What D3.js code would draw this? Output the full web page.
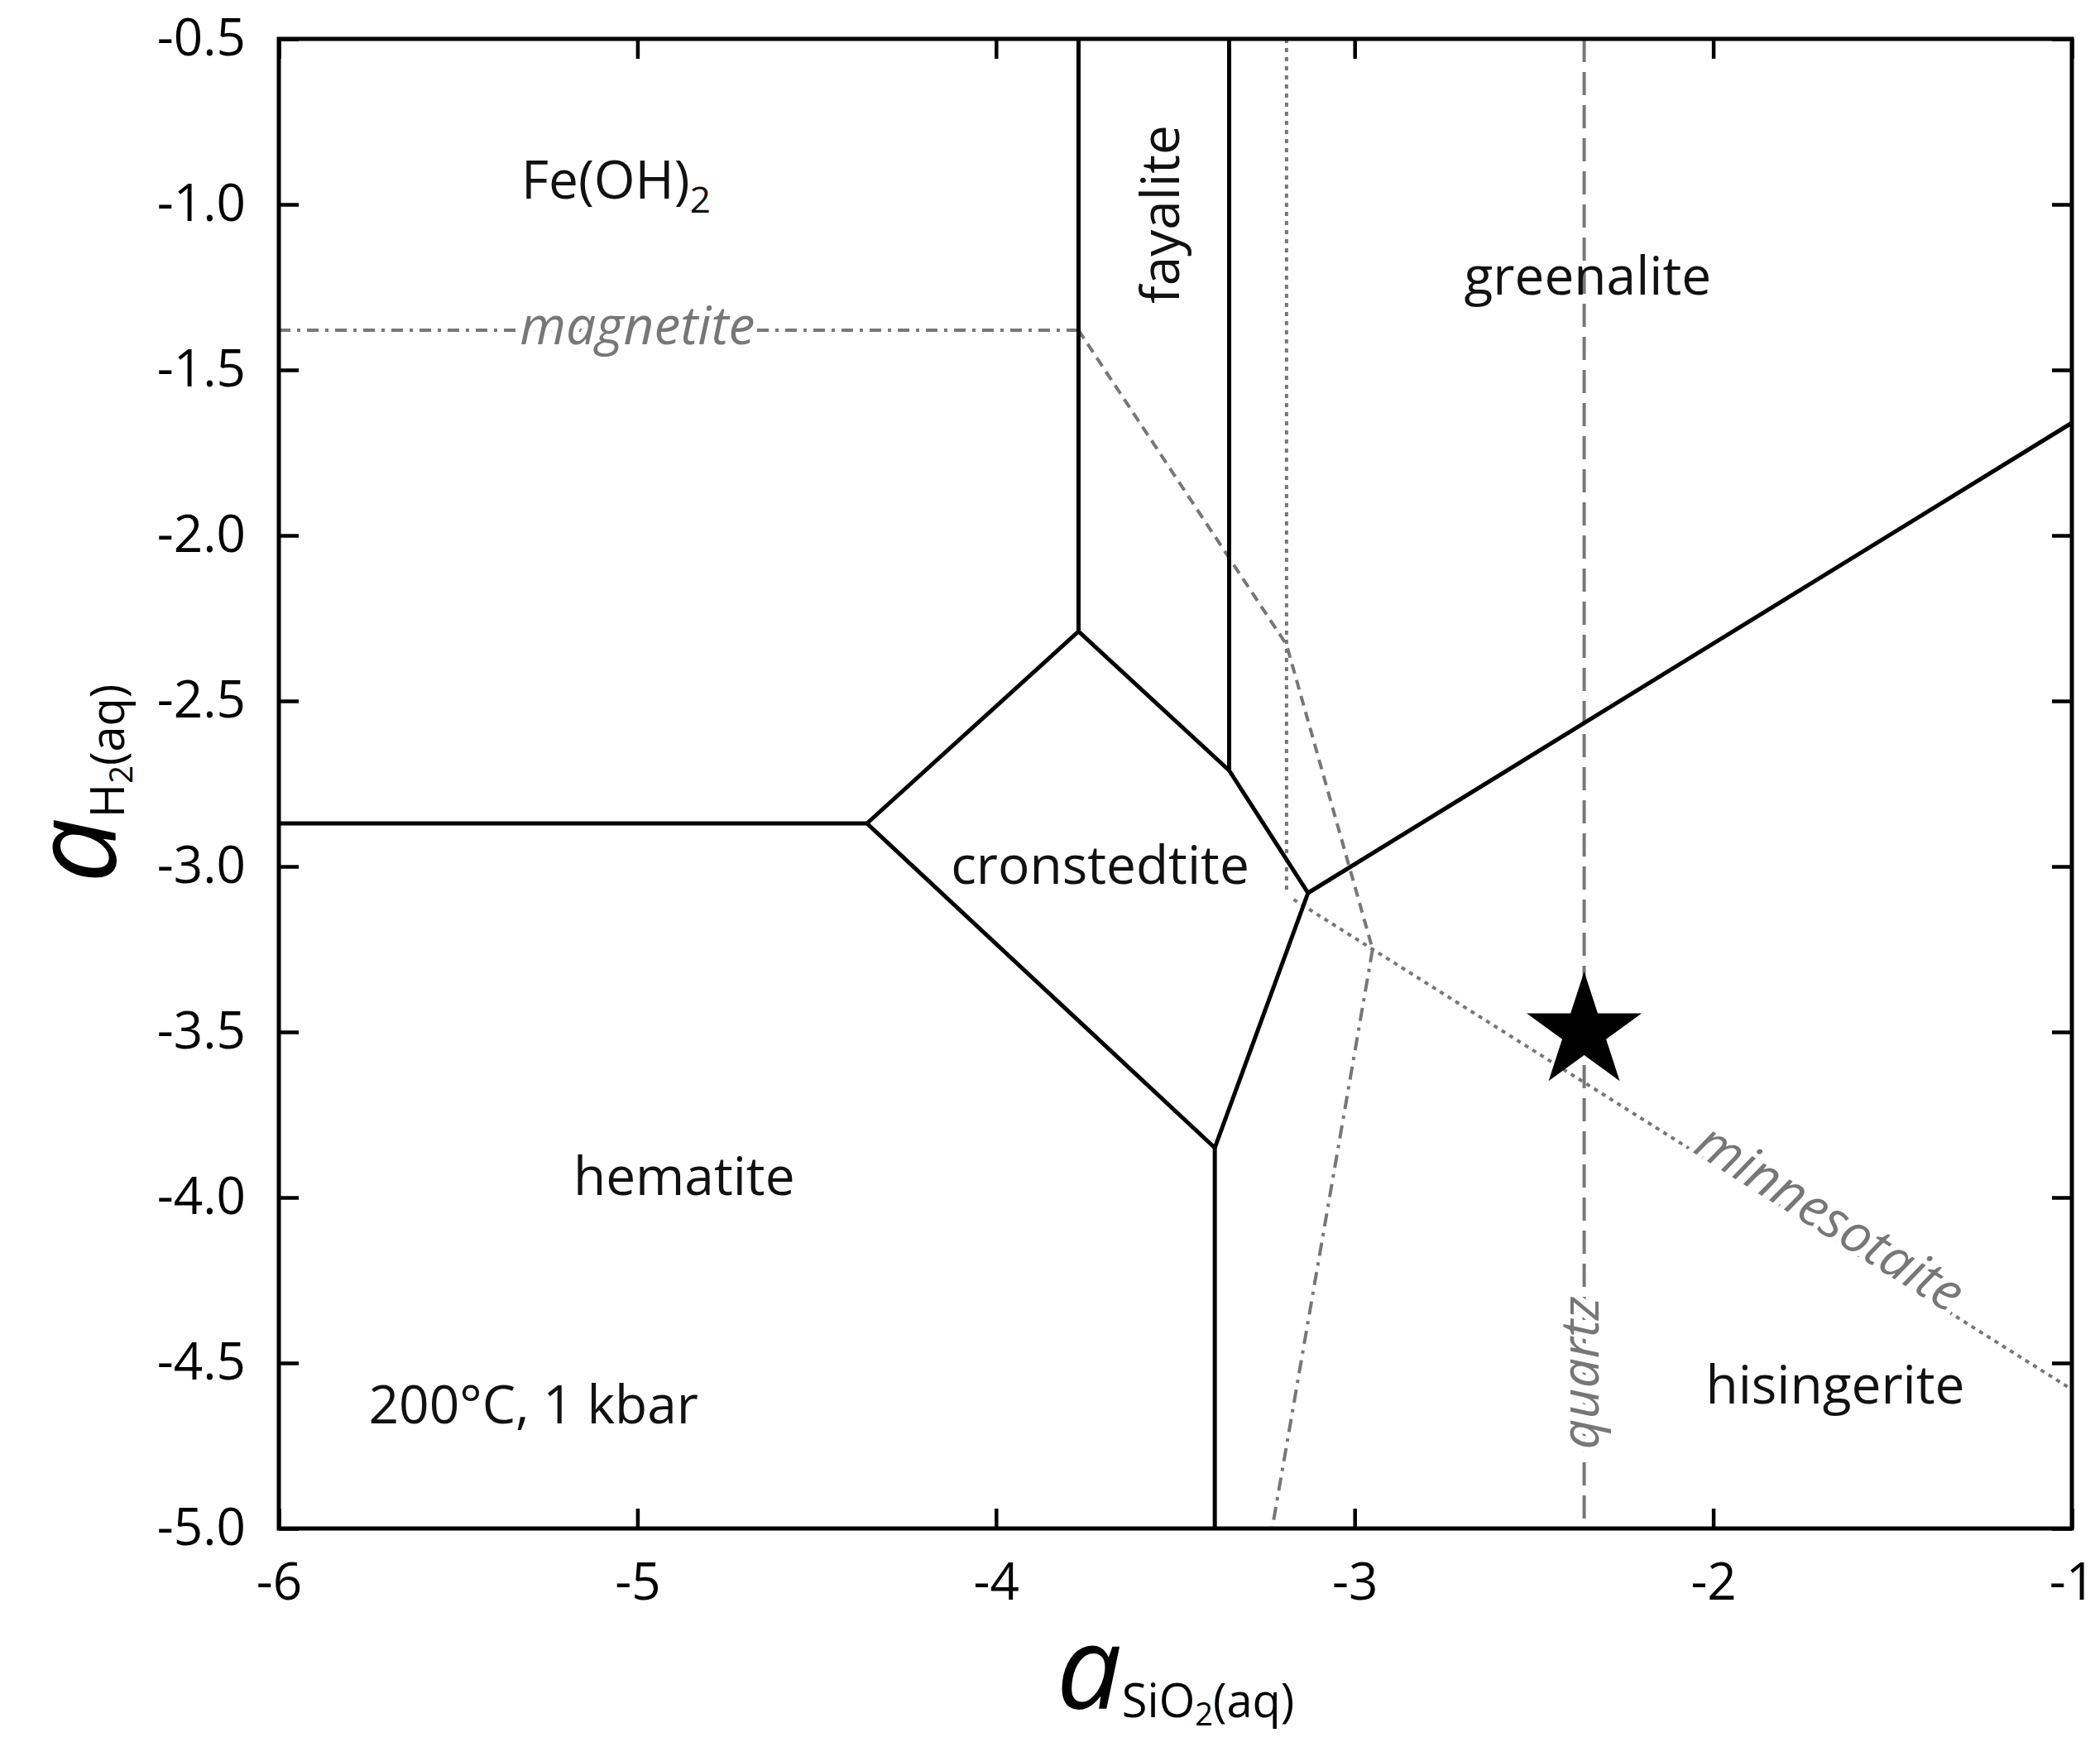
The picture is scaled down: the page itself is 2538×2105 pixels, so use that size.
<!DOCTYPE html>
<html><head><meta charset="utf-8">
<script src="https://cdn.jsdelivr.net/npm/d3@7"></script>
<style>body{margin:0;background:#fff}</style></head>
<body><svg id="c" width="2538" height="2105"></svg>
<script>
const xTicks=[-6,-5,-4,-3,-2,-1];
const yTicks=[-0.5,-1.0,-1.5,-2.0,-2.5,-3.0,-3.5,-4.0,-4.5,-5.0];
// solid phase boundaries
const boundaries=[
 [[-6,-2.87],[-4.36,-2.87]],
 [[-4.36,-2.87],[-3.77,-2.29]],
 [[-3.77,-2.29],[-3.77,-0.5]],
 [[-3.77,-2.29],[-3.35,-2.71]],
 [[-3.35,-2.71],[-3.35,-0.5]],
 [[-3.35,-2.71],[-3.13,-3.08]],
 [[-3.13,-3.08],[-1,-1.66]],
 [[-3.13,-3.08],[-3.39,-3.85]],
 [[-4.36,-2.87],[-3.39,-3.85]],
 [[-3.39,-3.85],[-3.39,-5]]
];
// gray saturation lines
const magnetiteLine=[[-6,-1.38],[-3.77,-1.38]];
const magnetiteDiag=[[-3.77,-1.38],[-3.19,-2.33],[-2.95,-3.25]];
const dashDotLine=[[-2.95,-3.25],[-3.23,-5]];
const dottedVert=[[-3.19,-0.5],[-3.19,-3.08]];
const minnesotaite=[[-3.17,-3.1],[-1,-4.58]];
const quartz=[[-2.36,-0.5],[-2.36,-5]];
const star=[-2.36,-3.5];
const labels=[
 {t:"fayalite",x:-3.53,y:-1.03,r:-90},
 {t:"greenalite",x:-2.35,y:-1.23,r:0},
 {t:"cronstedtite",x:-3.71,y:-3.01,r:0},
 {t:"hematite",x:-4.87,y:-3.95,r:0},
 {t:"hisingerite",x:-1.66,y:-4.58,r:0},
 {t:"200°C, 1 kbar",x:-5.29,y:-4.64,r:0}
];
const m={l:337,r:2504,t:47,b:1847};
const x=d3.scaleLinear().domain([-6,-1]).range([m.l,m.r]);
const y=d3.scaleLinear().domain([-0.5,-5]).range([m.t,m.b]);
const svg=d3.select("#c");
const font="'Open Sans','DejaVu Sans',sans-serif";
const line=d3.line().x(d=>x(d[0])).y(d=>y(d[1]));
const g=svg.append("g");
const gray="#777";
function draw(pts,dash){g.append("path").attr("d",line(pts)).attr("fill","none").attr("stroke",gray).attr("stroke-width",4).attr("stroke-dasharray",dash);}
draw(magnetiteLine,"14,8,4,8");
draw(magnetiteDiag,"12,8");
draw(dashDotLine,"16,8,4,8");
draw(dottedVert,"5,6");
draw(minnesotaite,"5,6");
draw(quartz,"28,12");
boundaries.forEach(b=>g.append("path").attr("d",line(b)).attr("fill","none").attr("stroke","#000").attr("stroke-width",5));
g.append("path").attr("d",d3.symbol().type(d3.symbolStar).size(6000)()).attr("transform",`translate(${x(star[0])},${y(star[1])})`).attr("fill","#000");
svg.append("rect").attr("x",m.l).attr("y",m.t).attr("width",m.r-m.l).attr("height",m.b-m.t).attr("fill","none").attr("stroke","#000").attr("stroke-width",5);
const tl=24;
const fx=d=>String(d3.format("d")(d)).replace("−","-");
const fy=d=>String(d3.format(".1f")(d)).replace("−","-");
const ax=[
 svg.append("g").attr("transform",`translate(0,${m.b})`).call(d3.axisBottom(x).tickValues(xTicks).tickSize(-tl).tickPadding(42).tickFormat(fx)),
 svg.append("g").attr("transform",`translate(0,${m.t})`).call(d3.axisTop(x).tickValues(xTicks).tickSize(-tl).tickFormat("")),
 svg.append("g").attr("transform",`translate(${m.l},0)`).call(d3.axisLeft(y).tickValues(yTicks).tickSize(-tl).tickPadding(40).tickFormat(fy)),
 svg.append("g").attr("transform",`translate(${m.r},0)`).call(d3.axisRight(y).tickValues(yTicks).tickSize(-tl).tickFormat(""))
];
ax.forEach(a=>{a.select(".domain").remove();a.selectAll("line").attr("stroke","#000").attr("stroke-width",4.5);a.selectAll("text").attr("font-family",font).attr("font-size",62).attr("fill","#000");});
const L=svg.append("g").attr("font-family",font).attr("font-size",64).attr("fill","#111");
labels.forEach(d=>L.append("text").attr("text-anchor","middle").attr("dominant-baseline","middle").attr("transform",`translate(${x(d.x)},${y(d.y)}) rotate(${d.r})`).text(d.t));
const fe=L.append("text").attr("text-anchor","middle").attr("dominant-baseline","middle").attr("transform",`translate(${x(-5.06)},${y(-0.94)})`);
fe.append("tspan").text("Fe(OH)");fe.append("tspan").attr("font-size",44).attr("dy",22).text("2");
const G=svg.append("g").attr("font-family",font).attr("font-size",64).attr("fill",gray).attr("font-style","italic");
G.append("text").attr("text-anchor","middle").attr("dominant-baseline","middle").attr("transform",`translate(${x(-5.0)},${y(-1.38)})`).text("magnetite").attr("paint-order","stroke").attr("stroke","#fff").attr("stroke-width",14);
const ang=Math.atan2(y(minnesotaite[1][1])-y(minnesotaite[0][1]),x(minnesotaite[1][0])-x(minnesotaite[0][0]))*180/Math.PI;
G.append("text").attr("text-anchor","middle").attr("dominant-baseline","middle").attr("transform",`translate(${x(-1.68)},${y(-4.07)}) rotate(${ang})`).text("minnesotaite").attr("paint-order","stroke").attr("stroke","#fff").attr("stroke-width",14);
G.append("text").attr("text-anchor","middle").attr("dominant-baseline","middle").attr("transform",`translate(${x(-2.36)},${y(-4.53)}) rotate(-90)`).text("quartz").attr("paint-order","stroke").attr("stroke","#fff").attr("stroke-width",14);
const xt=svg.append("text").attr("x",x(-3.5)).attr("y",2065).attr("text-anchor","middle").attr("font-family",font).attr("fill","#000");
xt.append("tspan").attr("font-size",140).attr("font-style","italic").text("a");
xt.append("tspan").attr("font-size",56).attr("dy",10).text("SiO");
xt.append("tspan").attr("font-size",38).attr("dy",10).text("2");
xt.append("tspan").attr("font-size",56).attr("dy",-10).text("(aq)");
const yt=svg.append("text").attr("transform",`translate(140,${y(-2.75)}) rotate(-90)`).attr("text-anchor","middle").attr("font-family",font).attr("fill","#000");
yt.append("tspan").attr("font-size",140).attr("font-style","italic").text("a");
yt.append("tspan").attr("font-size",56).attr("dy",10).text("H");
yt.append("tspan").attr("font-size",38).attr("dy",10).text("2");
yt.append("tspan").attr("font-size",56).attr("dy",-10).text("(aq)");
</script></body></html>
